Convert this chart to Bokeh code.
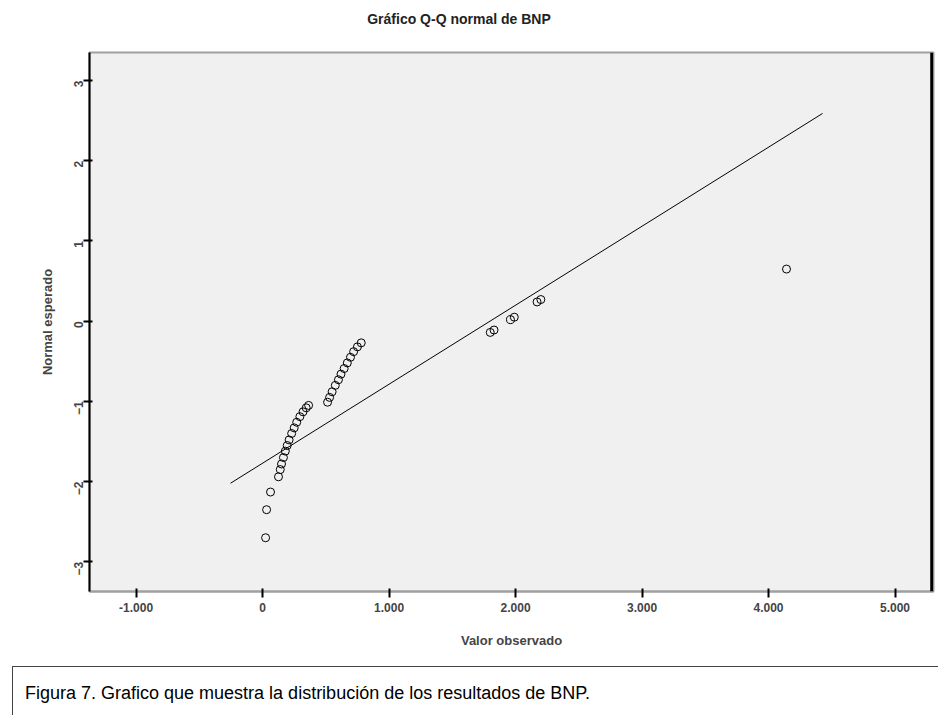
import math
from bokeh.plotting import figure
from bokeh.models import ColumnDataSource, FixedTicker, Span, Div
from bokeh.layouts import column
from bokeh.embed import file_html
from bokeh.resources import INLINE

obs_values = [24, 32, 63,
              126, 140, 150, 165, 180, 195, 210, 230, 250, 270, 295, 320, 345, 364,
              514, 530, 550, 575, 600, 620, 645, 670, 695, 720, 750, 780,
              1800, 1830, 1960, 1990, 2170, 2200,
              4142]
expected_normal = [-2.70, -2.35, -2.13,
                   -1.94, -1.85, -1.78, -1.70, -1.62, -1.55, -1.48, -1.40, -1.33, -1.26, -1.19, -1.13, -1.08, -1.05,
                   -1.01, -0.95, -0.88, -0.80, -0.73, -0.66, -0.59, -0.52, -0.45, -0.38, -0.32, -0.27,
                   -0.14, -0.11, 0.02, 0.05, 0.24, 0.27,
                   0.65]
# Reference normal line (end points)
line_x = [-253, 4427]
line_y = [-2.02, 2.59]

x_ticks = [-1000, 0, 1000, 2000, 3000, 4000, 5000]
x_tick_labels = ["-1.000", "0", "1.000", "2.000", "3.000", "4.000", "5.000"]
y_ticks = [-3, -2, -1, 0, 1, 2, 3]
title_text = "Gráfico Q-Q normal de BNP"

FONT = "Liberation Sans"

title_div = Div(text=title_text, width=938, height=28,
                styles={"font-family": "Liberation Sans, Arial, sans-serif", "font-size": "14px",
                        "font-weight": "bold", "color": "#222222", "text-align": "center",
                        "line-height": "28px", "padding-right": "30px", "box-sizing": "border-box",
                        "width": "938px"})

p = figure(width=938, height=612, output_backend="svg", toolbar_location=None,
           x_range=(-1368, 5304), y_range=(-3.37, 3.35),
           x_axis_label="Valor observado", y_axis_label="Normal esperado",
           min_border_left=89, min_border_right=5, min_border_top=14, min_border_bottom=58)

p.background_fill_color = "#f0f0f0"
p.border_fill_color = "white"
p.outline_line_color = "#a0a0a0"
p.outline_line_width = 2
p.grid.visible = False

for ax in (p.xaxis[0], p.yaxis[0]):
    ax.axis_label_text_font = FONT
    ax.axis_label_text_font_size = "13px"
    ax.axis_label_text_font_style = "bold"
    ax.major_label_text_font = FONT
    ax.major_label_text_font_size = "12px"
    ax.major_label_text_font_style = "bold"
    ax.major_tick_out = 6
    ax.major_tick_in = 3
    ax.minor_tick_line_color = None
    ax.major_tick_line_width = 2

p.xaxis.ticker = FixedTicker(ticks=x_ticks)
p.xaxis.major_label_overrides = {t: l for t, l in zip(x_ticks, x_tick_labels)}
p.xaxis.axis_label_standoff = 18
p.yaxis.ticker = FixedTicker(ticks=y_ticks)
p.yaxis.major_label_orientation = math.pi / 2
p.yaxis.axis_label_standoff = 12

p.xaxis.axis_line_color = "#a0a0a0"
p.xaxis.axis_line_width = 2
p.yaxis.axis_line_color = "black"
p.yaxis.axis_line_width = 2

p.add_layout(Span(location=5290, dimension="height", line_color="black", line_width=3))

p.line(line_x, line_y, line_color="black", line_width=1)

src = ColumnDataSource(data=dict(x=obs_values, y=expected_normal))
p.scatter("x", "y", source=src, size=8, marker="circle", fill_color=None,
          line_color="black", line_width=1)

caption = Div(text="Figura 7. Grafico que muestra la distribución de los resultados de BNP.",
              width=926, height=56,
              styles={"font-family": "Liberation Sans, Arial, sans-serif", "font-size": "18px",
                      "border": "1px solid #444", "padding": "14px 12px", "box-sizing": "border-box",
                      "margin-left": "12px", "margin-top": "16px", "border-right": "none"})

layout = column(title_div, p, caption, spacing=0)

open("out.html", "w").write(file_html(layout, INLINE))
